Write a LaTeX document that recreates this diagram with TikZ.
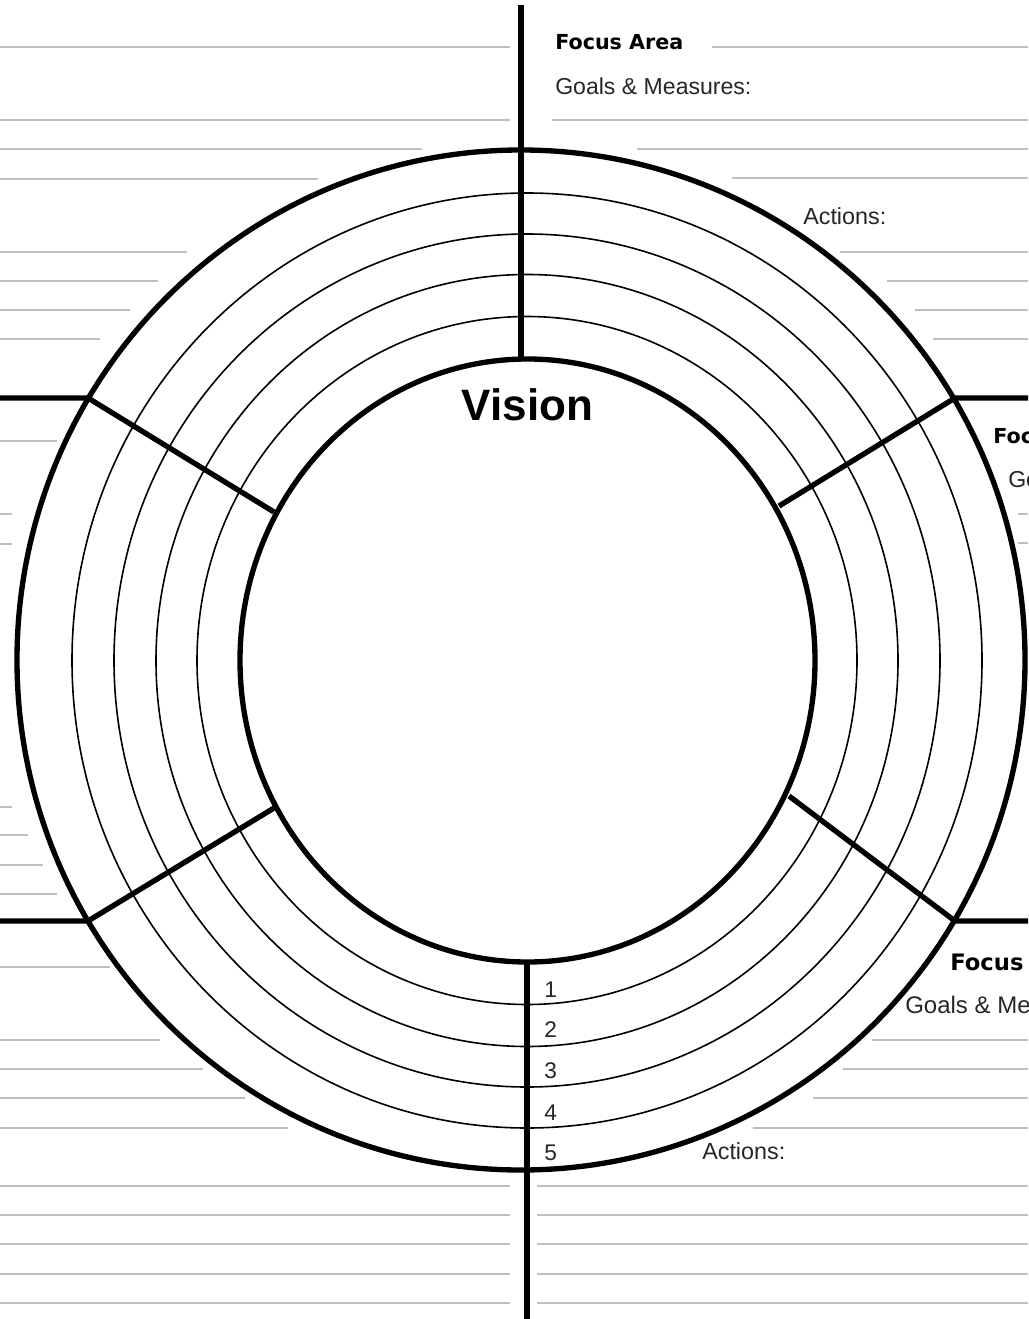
\documentclass[tikz,border=0pt]{standalone}
\usepackage{fontspec}
\setmainfont{Liberation Sans}
\newfontfamily\tahoma{DejaVu Sans}
\begin{document}
\begin{tikzpicture}[x=0.75pt,y=-0.75pt,
  rule/.style={draw=black!25, line width=1.1pt},
  thick rim/.style={draw=black, line width=4pt},
  ring/.style={draw=black, line width=1.2pt},
  spoke/.style={draw=black, line width=4pt, line cap=butt},
  title/.style={anchor=base west, inner sep=0pt, font=\tahoma\bfseries\fontsize{15.5}{18}\selectfont},
  sub/.style={anchor=base west, inner sep=0pt, font=\fontsize{17.3}{20}\selectfont, text=black!85},
  act/.style={anchor=base west, inner sep=0pt, font=\fontsize{17.5}{20}\selectfont, text=black!85},
  num/.style={anchor=base west, inner sep=0pt, font=\fontsize{17}{20}\selectfont, text=black!85}]
\useasboundingbox (0,0) rectangle (1028,1319);
\fill[white] (0,0) rectangle (1028,1319);
\clip (0,0) rectangle (1028,1319);

% ---- grey ruled lines ----
\foreach \y/\xe in {47/510,120/510,149/422,179/318,252/187,281/158,310/130,339/100,
                    441/57,514/12,544/12,807/12,835/28,865/43,894/57,
                    967/110,1040/160,1069/203,1098/245,1128/288,
                    1186/510,1215/510,1244/510,1274/510,1303/510}
  \draw[rule] (0,\y) -- (\xe,\y);
\foreach \y/\xs in {47/712,120/552,149/637,178/732,252/840,281/887,310/915,339/933,
                    514/1018,543/1018,
                    1040/872,1069/843,1098/813,1128/753,
                    1186/537,1215/537,1244/537,1274/537,1303/537}
  \draw[rule] (\xs,\y) -- (1028,\y);

% ---- centres ----
\coordinate (co) at (521,660);
\coordinate (ci) at (527.5,660.5);
\coordinate (cr) at (527,660.5);

% ---- thin rings ----
\draw[ring] (cr) ellipse [x radius=330, y radius=344];
\draw[ring] (cr) ellipse [x radius=371, y radius=386];
\draw[ring] (cr) ellipse [x radius=413, y radius=426.5];
\draw[ring] (cr) ellipse [x radius=455, y radius=467.5];

% ---- thick outer and inner circles ----
\draw[thick rim] (co) ellipse [x radius=504, y radius=510];
\draw[thick rim] (ci) ellipse [x radius=287.5, y radius=301.5];

% ---- spokes and dividers ----
\coordinate (topA) at (521,5);
\coordinate (topB) at (521,359);
\coordinate (botA) at (527,962);
\coordinate (botB) at (527,1319);
\coordinate (ulE) at (0,398);
\coordinate (ulO) at (88,398);
\coordinate (ulI) at (274,512);
\coordinate (llE) at (0,921);
\coordinate (llO) at (88,921);
\coordinate (llI) at (274,808);
\coordinate (urE) at (1028,398);
\coordinate (urO) at (955,398);
\coordinate (urI) at (779,506);
\coordinate (lrE) at (1028,921);
\coordinate (lrO) at (955,921);
\coordinate (lrI) at (789,796);

\draw[spoke] (topA) -- (topB);
\draw[spoke] (botA) -- (botB);
\draw[spoke] (ulE) -- (ulO) -- (ulI);
\draw[spoke] (llE) -- (llO) -- (llI);
\draw[spoke] (urE) -- (urO) -- (urI);
\draw[spoke] (lrE) -- (lrO) -- (lrI);

% ---- texts ----
\node[anchor=base, inner sep=0pt, font=\bfseries\fontsize{33}{38}\selectfont] (vision) at (527.5,420) {Vision};

\node[title] (fa1) at (555,50) {Focus Area};
\node[sub] (gm1) at (555,95) {Goals \& Measures:};
\node[act] (ac1) at (803,225) {Actions:};

\node[title] (fa2) at (993,443) {Focus Area};
\node[sub] (gm2) at (1008,487) {Goals \& Measures:};

\node[title, font=\tahoma\bfseries\fontsize{17}{20}\selectfont] (fa3) at (950,970) {Focus Area};
\node[sub, font=\fontsize{18}{21}\selectfont] (gm3) at (905,1013) {Goals \& Measures:};
\node[act] (ac3) at (702,1159) {Actions:};

\node[num] (n1) at (544,997) {1};
\node[num] (n2) at (544,1037) {2};
\node[num] (n3) at (544,1078) {3};
\node[num] (n4) at (544,1120) {4};
\node[num] (n5) at (544,1160) {5};
\end{tikzpicture}
\end{document}
